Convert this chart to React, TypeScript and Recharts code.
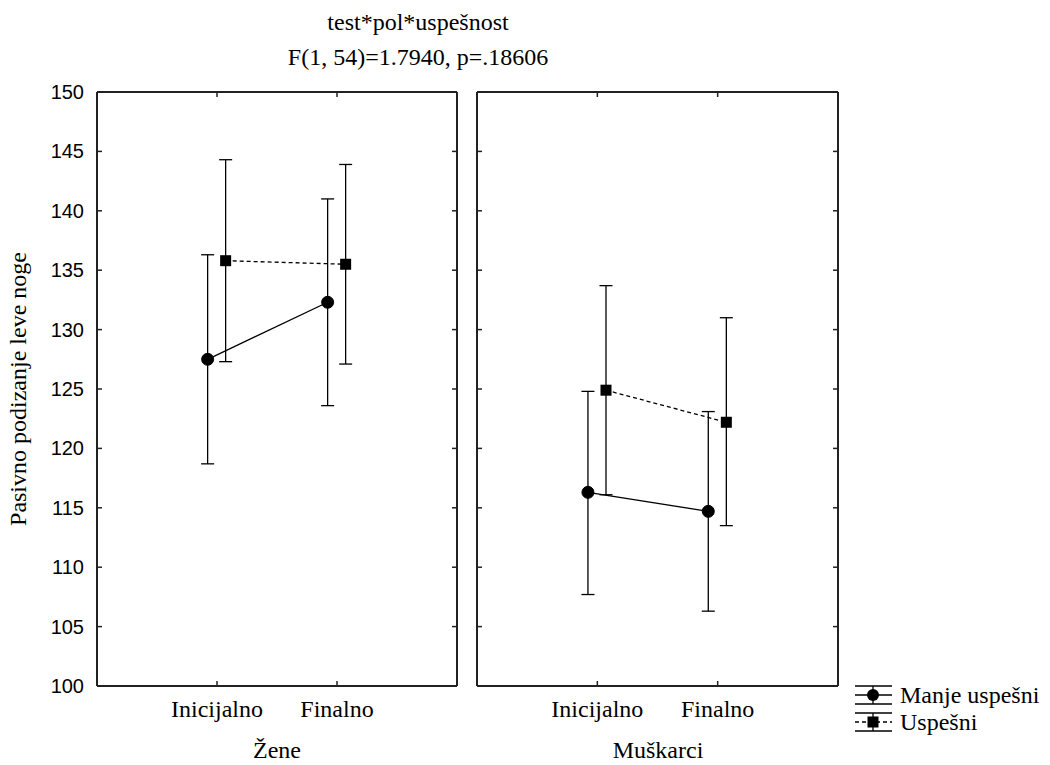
import { ComposedChart, Line, XAxis, YAxis, ErrorBar } from 'recharts'

const categories = ['Inicijalno', 'Finalno']
const panelNames = ['Žene', 'Muškarci']
const yTicks = [100, 105, 110, 115, 120, 125, 130, 135, 140, 145, 150]
const seriesNames = ['Manje uspešni', 'Uspešni']

// Žene
const zeneManjeMean = [127.5, 132.3]
const zeneManjeLow = [118.7, 123.6]
const zeneManjeHigh = [136.3, 141.0]
const zeneUspesniMean = [135.8, 135.5]
const zeneUspesniLow = [127.3, 127.1]
const zeneUspesniHigh = [144.3, 143.9]

// Muškarci
const muskManjeMean = [116.3, 114.7]
const muskManjeLow = [107.7, 106.3]
const muskManjeHigh = [124.8, 123.1]
const muskUspesniMean = [124.9, 122.2]
const muskUspesniLow = [116.1, 113.5]
const muskUspesniHigh = [133.7, 131.0]

const serif = "'Liberation Serif', 'Times New Roman', serif"
const sans = "'Liberation Sans', Arial, sans-serif"
const frame = { stroke: '#222', strokeWidth: 2 }

type Point = { x: number; y: number; err: [number, number] }

// categories sit at x = 1, 2 on a 0..3 axis, series shifted a bit left/right
const toPoints = (mean: number[], low: number[], high: number[], shift: number): Point[] =>
  mean.map((m, i) => ({ x: i + 1 + shift, y: m, err: [m - low[i], high[i] - m] }))

const squareDot = (props: any) => {
  const { cx, cy, index } = props
  if (cx == null || cy == null) return <g key={index} />
  return <rect key={index} x={cx - 5.5} y={cy - 5.5} width={11} height={11} fill="#000" />
}

const LeftTick = ({ x, y, payload, showLabel }: any) => (
  <g>
    <line x1={x} x2={x + 5} y1={y} y2={y} stroke="#222" strokeWidth={1.5} />
    {showLabel && (
      <text x={x - 13} y={y + 7} textAnchor="end" fontFamily={sans} fontSize={20} fill="#000">
        {payload.value}
      </text>
    )}
  </g>
)

const RightTick = ({ x, y }: any) => (
  <line x1={x - 5} x2={x} y1={y} y2={y} stroke="#222" strokeWidth={1.5} />
)

const TopTick = ({ x, y }: any) => (
  <line x1={x} x2={x} y1={y} y2={y + 5} stroke="#222" strokeWidth={1.5} />
)

const BottomTick = ({ x, y, payload }: any) => (
  <g>
    <line x1={x} x2={x} y1={y - 5} y2={y} stroke="#222" strokeWidth={1.5} />
    <text x={x} y={y + 31} textAnchor="middle" fontFamily={serif} fontSize={24} fill="#000">
      {categories[Math.round(payload.value) - 1]}
    </text>
  </g>
)

function Panel({
  manje,
  uspesni,
  showLabels,
  width,
  marginLeft,
  marginRight,
}: {
  manje: Point[]
  uspesni: Point[]
  showLabels: boolean
  width: number
  marginLeft: number
  marginRight: number
}) {
  return (
    <ComposedChart
      width={width}
      height={765}
      margin={{ top: 91, right: marginRight, bottom: 39, left: marginLeft }}
    >
      <XAxis
        xAxisId="b"
        type="number"
        dataKey="x"
        domain={[0, 3]}
        ticks={[1, 2]}
        interval={0}
        allowDataOverflow
        height={40}
        axisLine={frame}
        tickLine={false}
        tickSize={0}
        tickMargin={0}
        tick={<BottomTick />}
      />
      <XAxis
        xAxisId="t"
        orientation="top"
        type="number"
        dataKey="x"
        domain={[0, 3]}
        ticks={[1, 2]}
        interval={0}
        allowDataOverflow
        height={1}
        axisLine={frame}
        tickLine={false}
        tickSize={0}
        tickMargin={0}
        tick={<TopTick />}
      />
      <YAxis
        yAxisId="l"
        type="number"
        domain={[100, 150]}
        ticks={yTicks}
        interval={0}
        allowDataOverflow
        width={1}
        axisLine={frame}
        tickLine={false}
        tickSize={0}
        tickMargin={0}
        tick={<LeftTick showLabel={showLabels} />}
      />
      <YAxis
        yAxisId="r"
        orientation="right"
        type="number"
        domain={[100, 150]}
        ticks={yTicks}
        interval={0}
        allowDataOverflow
        width={1}
        axisLine={frame}
        tickLine={false}
        tickSize={0}
        tickMargin={0}
        tick={<RightTick />}
      />
      <Line
        xAxisId="b"
        yAxisId="l"
        data={uspesni}
        dataKey="y"
        name={seriesNames[1]}
        stroke="#000"
        strokeWidth={1.3}
        strokeDasharray="4 3"
        dot={squareDot}
        activeDot={false}
        isAnimationActive={false}
      >
        <ErrorBar dataKey="err" direction="y" width={6.5} stroke="#000" strokeWidth={1.3} />
      </Line>
      <Line
        xAxisId="b"
        yAxisId="l"
        data={manje}
        dataKey="y"
        name={seriesNames[0]}
        stroke="#000"
        strokeWidth={1.3}
        dot={{ r: 6, fill: '#000', stroke: '#000', strokeWidth: 1 }}
        activeDot={false}
        isAnimationActive={false}
      >
        <ErrorBar dataKey="err" direction="y" width={6.5} stroke="#000" strokeWidth={1.3} />
      </Line>
    </ComposedChart>
  )
}

export default function App() {
  const manjeShift = -0.078
  const uspesniShift = 0.072
  return (
    <div
      style={{
        position: 'absolute',
        left: 0,
        top: 0,
        width: 1050,
        height: 765,
        background: '#fff',
      }}
    >
      <div style={{ position: 'absolute', left: 0, top: 0 }}>
        <Panel
          manje={toPoints(zeneManjeMean, zeneManjeLow, zeneManjeHigh, manjeShift)}
          uspesni={toPoints(zeneUspesniMean, zeneUspesniLow, zeneUspesniHigh, uspesniShift)}
          showLabels
          width={470}
          marginLeft={96}
          marginRight={12}
        />
      </div>
      <div style={{ position: 'absolute', left: 470, top: 0 }}>
        <Panel
          manje={toPoints(muskManjeMean, muskManjeLow, muskManjeHigh, manjeShift)}
          uspesni={toPoints(muskUspesniMean, muskUspesniLow, muskUspesniHigh, uspesniShift)}
          showLabels={false}
          width={380}
          marginLeft={6}
          marginRight={11}
        />
      </div>
      <svg
        width={1050}
        height={765}
        style={{ position: 'absolute', left: 0, top: 0, pointerEvents: 'none' }}
        fontFamily={serif}
        fontSize={24}
      >
        <text x={418} y={30} textAnchor="middle">test*pol*uspešnost</text>
        <text x={418} y={65} textAnchor="middle">F(1, 54)=1.7940, p=.18606</text>
        <text x={26} y={389} textAnchor="middle" transform="rotate(-90 26 389)">
          Pasivno podizanje leve noge
        </text>
        <text x={277} y={758} textAnchor="middle">{panelNames[0]}</text>
        <text x={658} y={758} textAnchor="middle">{panelNames[1]}</text>

        {/* legend */}
        <g stroke="#000" strokeWidth={1.3}>
          <line x1={855} x2={892} y1={686} y2={686} />
          <line x1={855} x2={892} y1={695} y2={695} />
          <line x1={855} x2={892} y1={704} y2={704} />
          <line x1={873} x2={873} y1={686} y2={704} />
          <line x1={855} x2={892} y1={713} y2={713} />
          <line x1={855} x2={892} y1={722} y2={722} strokeDasharray="4 3" />
          <line x1={855} x2={892} y1={731} y2={731} />
          <line x1={873} x2={873} y1={713} y2={731} />
        </g>
        <circle cx={873} cy={695} r={6} fill="#000" />
        <rect x={867.5} y={716.5} width={11} height={11} fill="#000" />
        <text x={900} y={703}>{seriesNames[0]}</text>
        <text x={900} y={730}>{seriesNames[1]}</text>
      </svg>
    </div>
  )
}
